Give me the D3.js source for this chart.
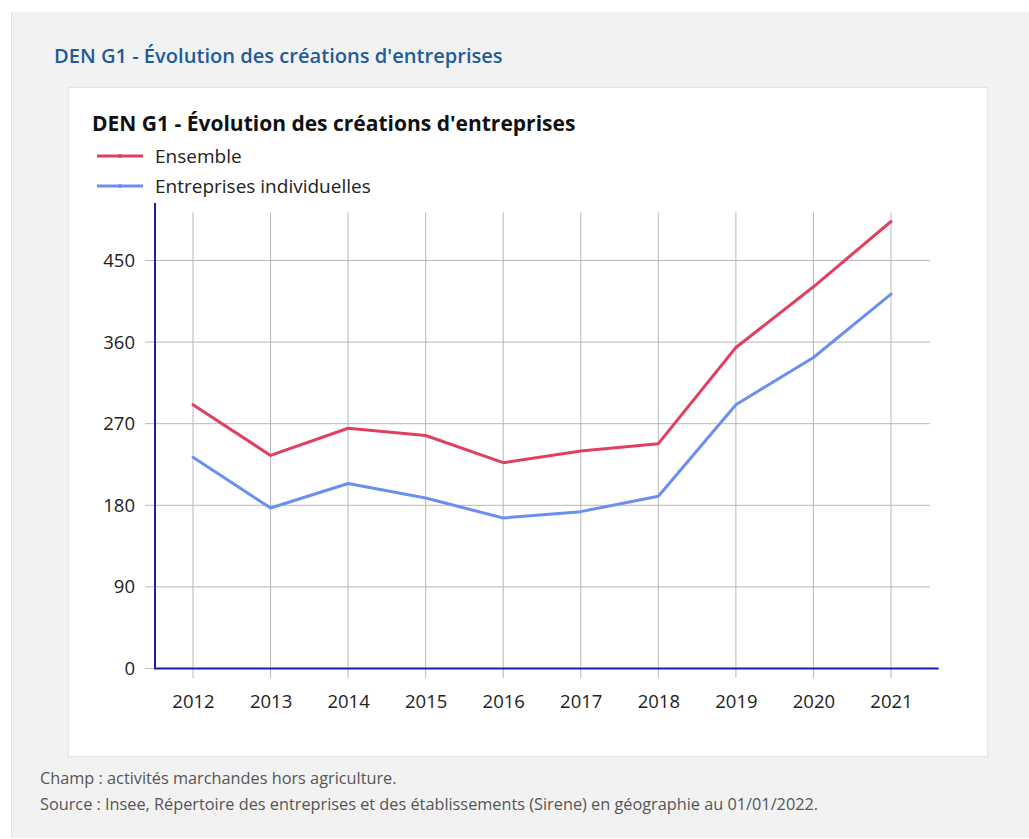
<!DOCTYPE html>
<html><head><meta charset="utf-8">
<script src="https://cdn.jsdelivr.net/npm/d3@7"></script>
<style>
html,body{margin:0;padding:0;background:#fff;}
svg{display:block;font-family:"Open Sans",sans-serif;}
</style></head><body>
<svg id="c" width="1029" height="839"></svg>
<script>
const years = [2012,2013,2014,2015,2016,2017,2018,2019,2020,2021];
const ensemble = [291,235,265,257,227,240,248,354,421,493];
const individuelles = [233,177,204,188,166,173,190,291,343,413];
const yTicks = [0,90,180,270,360,450];
const seriesNames = ["Ensemble","Entreprises individuelles"];
const seriesColors = ["#e0405e","#6b8ff0"];

const svg = d3.select("#c");
// page background
svg.append("rect").attr("x",11).attr("y",12).attr("width",1018).attr("height",826).attr("fill","#f2f2f2");
svg.append("line").attr("x1",11.5).attr("x2",11.5).attr("y1",12).attr("y2",838).attr("stroke","#e2e2e2");
// heading
svg.append("text").attr("x",54).attr("y",63).attr("fill","#1f5c99").attr("font-size",20.1).attr("font-weight",600)
  .text("DEN G1 - Évolution des créations d'entreprises");
// white card
svg.append("rect").attr("x",68.5).attr("y",87.5).attr("width",919).attr("height",669).attr("fill","#fff").attr("stroke","#e3e3e3");
// inner title
svg.append("text").attr("x",92).attr("y",131).attr("fill","#111").attr("font-size",21).attr("font-weight",700)
  .text("DEN G1 - Évolution des créations d'entreprises");
// legend
seriesNames.forEach((n,i)=>{
  const ly = 156 + i*30;
  svg.append("line").attr("x1",97).attr("x2",143).attr("y1",ly).attr("y2",ly).attr("stroke",seriesColors[i]).attr("stroke-width",3);
  svg.append("circle").attr("cx",120).attr("cy",ly).attr("r",2).attr("fill",seriesColors[i]);
  svg.append("text").attr("x",155).attr("y",ly).attr("dy","0.35em").attr("font-size",19).attr("fill","#222").text(n);
});

const x = d3.scaleLinear().domain([2012,2021]).range([193,891]);
const y = d3.scaleLinear().domain([0,450]).range([668.5,260.5]);
const yTop = y(503);

// grid
const g = svg.append("g");
g.selectAll(".vg").data(years).enter().append("line")
  .attr("x1",d=>x(d)).attr("x2",d=>x(d)).attr("y1",yTop).attr("y2",678)
  .attr("stroke","#b8b8b8").attr("stroke-width",1);
g.selectAll(".hg").data(yTicks).enter().append("line")
  .attr("x1",145).attr("x2",930).attr("y1",d=>y(d)).attr("y2",d=>y(d))
  .attr("stroke","#b8b8b8").attr("stroke-width",1);

// axes
const yAxis = d3.axisLeft(y).tickValues(yTicks).tickSize(0).tickPadding(20);
const ya = svg.append("g").attr("transform","translate(155,0)").call(yAxis);
ya.select(".domain").remove();
ya.selectAll("text").attr("font-size",18.5).attr("fill","#222").attr("font-family","Open Sans, sans-serif");
svg.append("line").attr("x1",155).attr("x2",155).attr("y1",203).attr("y2",y(0)).attr("stroke","#1c1caa").attr("stroke-width",2);

const xAxis = d3.axisBottom(x).tickValues(years).tickFormat(d3.format("d")).tickSize(0).tickPadding(26);
const xa = svg.append("g").attr("transform",`translate(0,${y(0)})`).call(xAxis);
xa.select(".domain").remove();
xa.selectAll("text").attr("font-size",18.5).attr("fill","#222").attr("font-family","Open Sans, sans-serif");
svg.append("line").attr("x1",x(2011.5)).attr("x2",x(2021.615)).attr("y1",y(0)).attr("y2",y(0)).attr("stroke","#1c1caa").attr("stroke-width",2);

// lines
const line = d3.line().x((d,i)=>x(years[i])).y(d=>y(d));
[ensemble, individuelles].forEach((s,i)=>{
  svg.append("path").datum(s).attr("d",line).attr("fill","none").attr("stroke",seriesColors[i])
    .attr("stroke-width",3).attr("stroke-linejoin","round").attr("stroke-linecap","round");
});

// footer
svg.append("text").attr("x",40).attr("y",784).attr("font-size",16.3).attr("fill","#555").text("Champ : activités marchandes hors agriculture.");
svg.append("text").attr("x",40).attr("y",810).attr("font-size",16.3).attr("fill","#555").text("Source : Insee, Répertoire des entreprises et des établissements (Sirene) en géographie au 01/01/2022.");
</script>
</body></html>
